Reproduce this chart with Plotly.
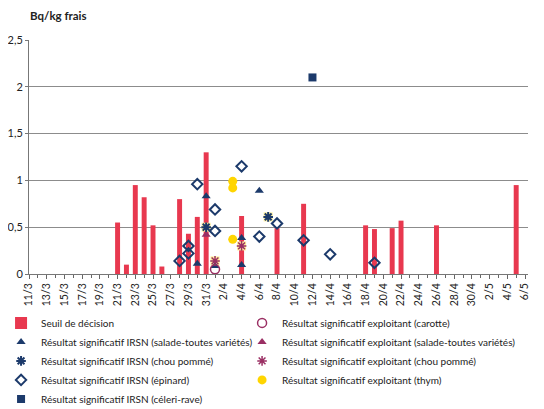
import plotly.graph_objects as go

# Seuil de décision (barres rouges)
seuil_dates = ["2011-03-21", "2011-03-22", "2011-03-23", "2011-03-24", "2011-03-25",
               "2011-03-26", "2011-03-28", "2011-03-29", "2011-03-30", "2011-03-31",
               "2011-04-04", "2011-04-08", "2011-04-11", "2011-04-18", "2011-04-19",
               "2011-04-21", "2011-04-22", "2011-04-26", "2011-05-05"]
seuil_values = [0.55, 0.10, 0.95, 0.82, 0.52, 0.08, 0.80, 0.43, 0.61, 1.30,
                0.62, 0.49, 0.75, 0.52, 0.48, 0.49, 0.57, 0.52, 0.95]

# Résultats IRSN
irsn_salade_dates = ["2011-03-30", "2011-03-31", "2011-04-01", "2011-04-04", "2011-04-04", "2011-04-06"]
irsn_salade_values = [0.11, 0.83, 0.085, 0.385, 0.095, 0.89]

irsn_chou_dates = ["2011-03-31", "2011-04-07"]
irsn_chou_values = [0.50, 0.61]

irsn_epinard_dates = ["2011-03-28", "2011-03-29", "2011-03-29", "2011-03-30", "2011-04-01",
                      "2011-04-01", "2011-04-04", "2011-04-06", "2011-04-08", "2011-04-11",
                      "2011-04-14", "2011-04-19"]
irsn_epinard_values = [0.14, 0.30, 0.22, 0.96, 0.69, 0.46, 1.15, 0.40, 0.54, 0.36, 0.21, 0.12]

irsn_celeri_dates = ["2011-04-12"]
irsn_celeri_values = [2.10]

# Résultats exploitant
expl_carotte_dates = ["2011-04-01"]
expl_carotte_values = [0.05]

expl_salade_dates = ["2011-03-31"]
expl_salade_values = [0.42]

expl_chou_dates = ["2011-04-01", "2011-04-04"]
expl_chou_values = [0.14, 0.30]

expl_thym_dates = ["2011-04-03", "2011-04-03", "2011-04-03"]
expl_thym_values = [0.37, 0.92, 0.99]

NAVY = "#1c3a6b"
MAGENTA = "#9a2f63"
RED = "#e8384f"
LIGHT_YELLOW = "#fff09a"
YELLOW = "#ffd500"
DAY_MS = 86400000

fig = go.Figure()

fig.add_trace(go.Bar(x=seuil_dates, y=seuil_values, name="Seuil de décision",
                     marker=dict(color=RED, line=dict(width=0)),
                     width=0.56 * DAY_MS, legend="legend", legendrank=1))

# fond jaune des marqueurs "chou pommé"
fig.add_trace(go.Scatter(x=irsn_chou_dates + expl_chou_dates,
                         y=irsn_chou_values + expl_chou_values,
                         mode="markers", showlegend=False, hoverinfo="skip",
                         marker=dict(symbol="square", size=9, color=LIGHT_YELLOW)))

fig.add_trace(go.Scatter(x=irsn_epinard_dates, y=irsn_epinard_values, mode="markers",
                         name="Résultat significatif IRSN (épinard)", legend="legend", legendrank=4,
                         marker=dict(symbol="diamond-open", size=8, color=NAVY,
                                     line=dict(width=2, color=NAVY))))

fig.add_trace(go.Scatter(x=irsn_salade_dates, y=irsn_salade_values, mode="markers",
                         name="Résultat significatif IRSN (salade-toutes variétés)",
                         legend="legend", legendrank=2,
                         marker=dict(symbol="triangle-up", size=8, color=NAVY)))

fig.add_trace(go.Scatter(x=expl_salade_dates, y=expl_salade_values, mode="markers",
                         name="Résultat significatif exploitant (salade-toutes variétés)",
                         legend="legend2", legendrank=2,
                         marker=dict(symbol="triangle-up", size=8, color=MAGENTA)))

fig.add_trace(go.Scatter(x=irsn_chou_dates, y=irsn_chou_values, mode="markers",
                         name="Résultat significatif IRSN (chou pommé)", legend="legend", legendrank=3,
                         marker=dict(symbol="asterisk-open", size=8, color=NAVY,
                                     line=dict(width=2, color=NAVY))))

fig.add_trace(go.Scatter(x=expl_chou_dates, y=expl_chou_values, mode="markers",
                         name="Résultat significatif exploitant (chou pommé)", legend="legend2", legendrank=3,
                         marker=dict(symbol="asterisk-open", size=8, color=MAGENTA,
                                     line=dict(width=1.5, color=MAGENTA))))

fig.add_trace(go.Scatter(x=expl_carotte_dates, y=expl_carotte_values, mode="markers",
                         name="Résultat significatif exploitant (carotte)", legend="legend2", legendrank=1,
                         marker=dict(symbol="circle-open", size=9, color=MAGENTA,
                                     line=dict(width=1.5, color=MAGENTA))))

fig.add_trace(go.Scatter(x=expl_thym_dates, y=expl_thym_values, mode="markers",
                         name="Résultat significatif exploitant (thym)", legend="legend2", legendrank=4,
                         marker=dict(symbol="circle", size=9, color=YELLOW)))

fig.add_trace(go.Scatter(x=irsn_celeri_dates, y=irsn_celeri_values, mode="markers",
                         name="Résultat significatif IRSN (céleri-rave)", legend="legend", legendrank=5,
                         marker=dict(symbol="square", size=8, color=NAVY)))

FONT = "Lato, sans-serif"
legend_style = dict(orientation="v", y=-0.147, xanchor="left", yanchor="top",
                    itemwidth=30, tracegroupgap=0, bgcolor="rgba(0,0,0,0)",
                    font=dict(family=FONT, size=10, color="#222"))

# la page ajoute une marge de 8 px autour de la figure
fig.update_layout(
    width=536, height=401,
    margin=dict(l=21, r=16, t=32, b=135, autoexpand=False),
    paper_bgcolor="white", plot_bgcolor="white",
    separators=", ",
    font=dict(family=FONT, size=11, color="#222"),
    showlegend=True,
    legend=dict(x=-0.056, **legend_style),
    legend2=dict(x=0.427, **legend_style),
    xaxis=dict(type="date", range=["2011-03-11", "2011-05-06 08:00"],
               tick0="2011-03-11", dtick=2 * DAY_MS, tickformat="%-d/%-m",
               tickangle=-90, ticks="outside", ticklen=4, tickcolor="#666",
               minor=dict(dtick=DAY_MS, ticks="outside", ticklen=3, tickcolor="#666"),
               showgrid=False, showline=True, linecolor="#777", linewidth=1,
               tickfont=dict(family=FONT, size=10.5, color="#222")),
    yaxis=dict(range=[0, 2.5], dtick=0.5, showgrid=True, gridcolor="#8c8c8c", gridwidth=1,
               zeroline=False, showline=True, linecolor="#777", linewidth=1,
               ticks="outside", ticklen=3, tickcolor="#777",
               tickfont=dict(family=FONT, size=11, color="#222")),
    annotations=[dict(text="<b>Bq/kg frais</b>", xref="paper", yref="paper",
                      x=-0.002, y=1.105, xanchor="left", yanchor="middle",
                      showarrow=False, font=dict(family=FONT, size=11.5, color="#222"))],
)

fig.write_html("out.html")
